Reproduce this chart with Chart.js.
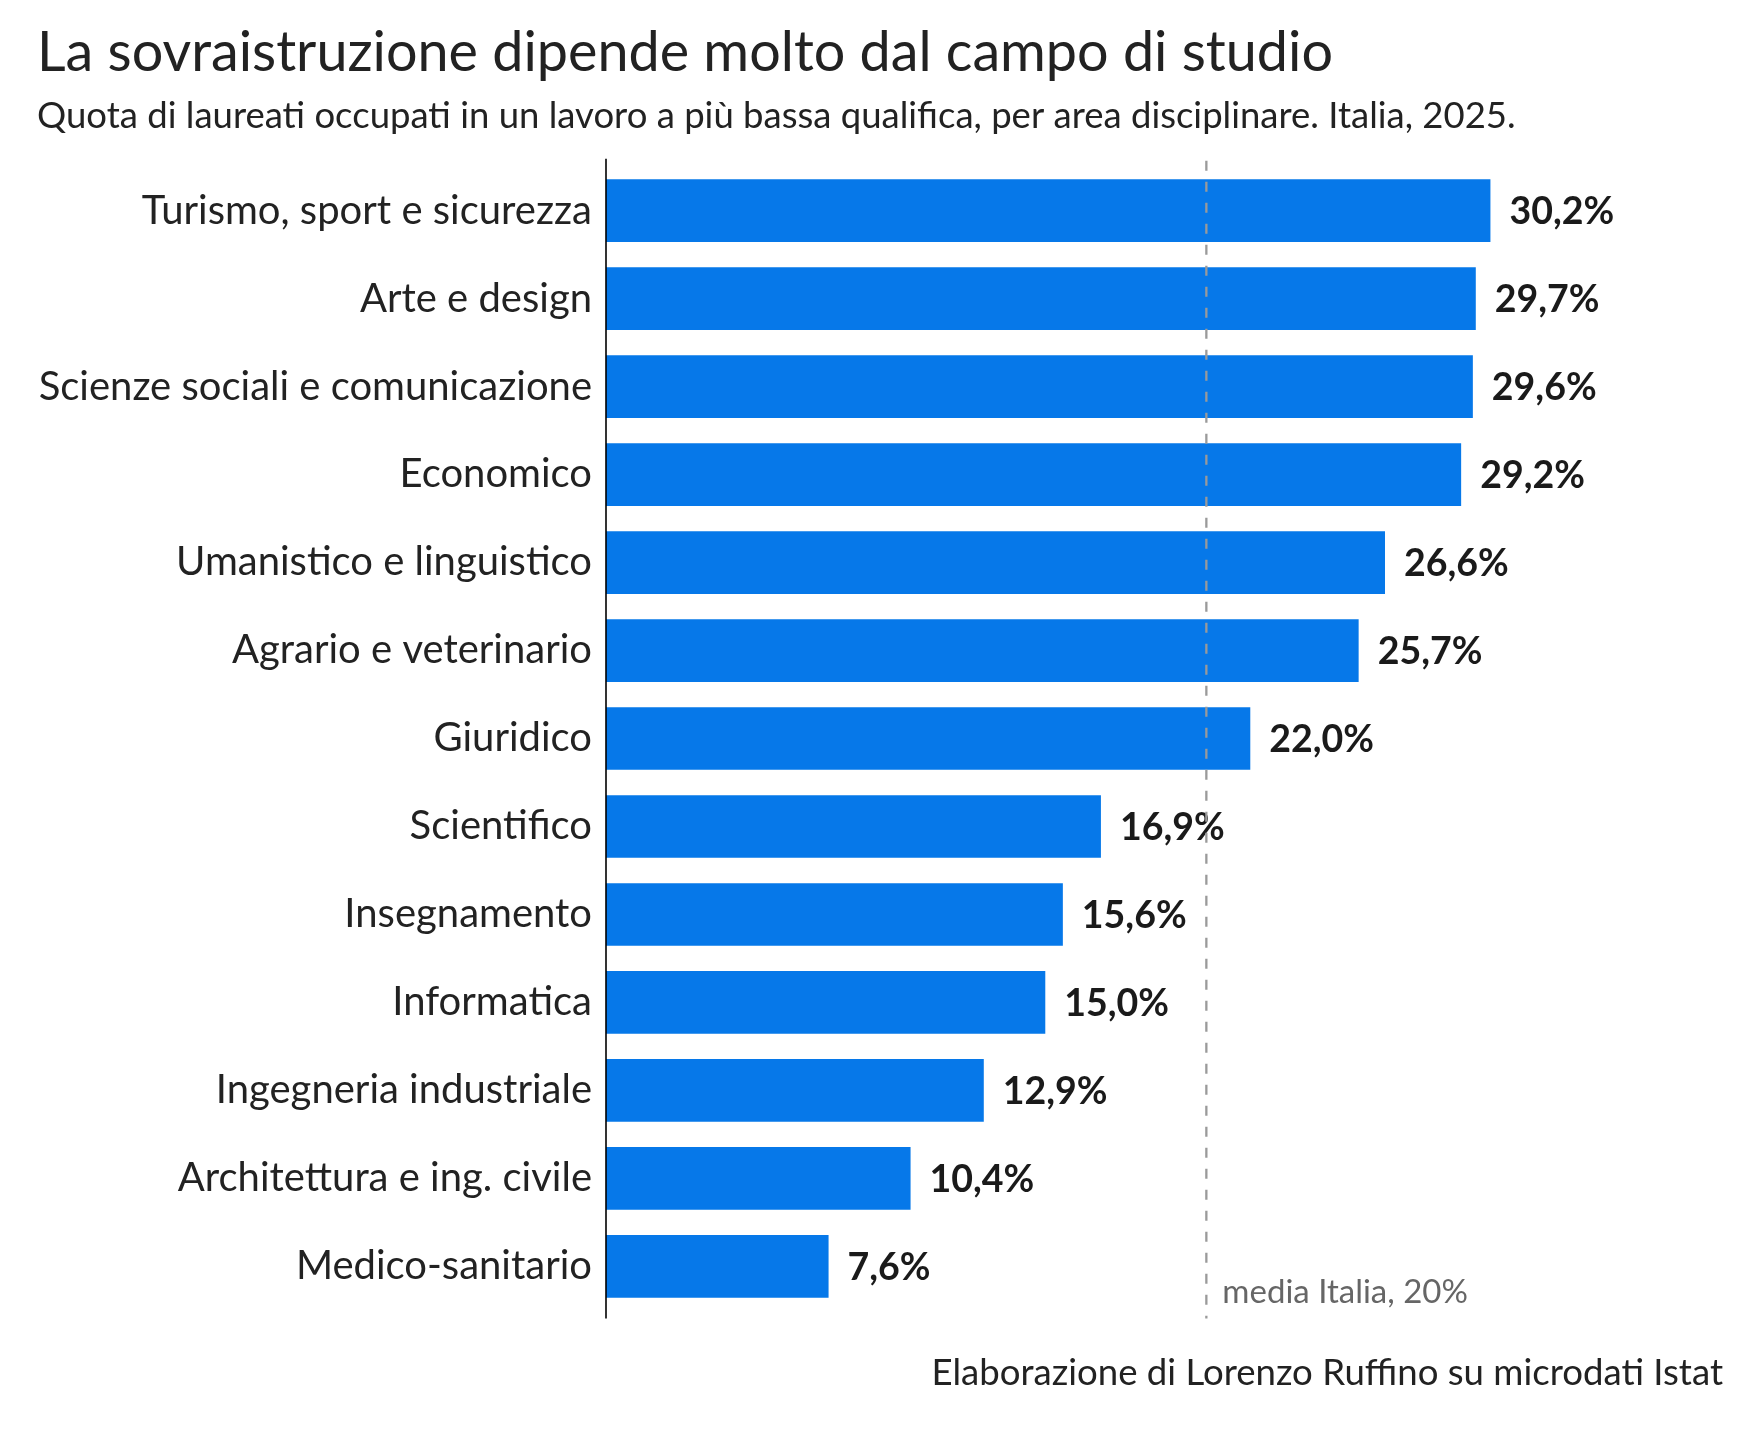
<!DOCTYPE html>
<html>
<head>
<meta charset="utf-8">
<script src="https://cdn.jsdelivr.net/npm/chart.js@4.4.1/dist/chart.umd.min.js"></script>
<style>
  html, body { margin: 0; padding: 0; background: #ffffff; }
  #wrap { width: 1760px; height: 1430px; }
</style>
</head>
<body>
<div id="wrap"><canvas id="bars" width="1760" height="1430"></canvas></div>
<script>
let areas = [
  "Turismo, sport e sicurezza",
  "Arte e design",
  "Scienze sociali e comunicazione",
  "Economico",
  "Umanistico e linguistico",
  "Agrario e veterinario",
  "Giuridico",
  "Scientifico",
  "Insegnamento",
  "Informatica",
  "Ingegneria industriale",
  "Architettura e ing. civile",
  "Medico-sanitario",
];
let share = [30.2, 29.7, 29.6, 29.2, 26.6, 25.7, 22.0, 16.9, 15.6, 15.0, 12.9, 10.4, 7.6];
let media = 20.5;
let mediaLabel = "media Italia, 20%";
let source = "Elaborazione di Lorenzo Ruffino su microdati Istat";

const font = "Lato, 'Source Sans Pro', sans-serif";
const ink = "#222222";

// value labels, axis line, average line, footer
let extras = {
  id: "extras",
  afterDatasetsDraw(chart) {
    let c = chart.ctx;
    let area = chart.chartArea;
    let x = chart.scales.x;
    let meta = chart.getDatasetMeta(0);

    c.save();
    c.font = "bold 37.5px " + font;
    c.fillStyle = "#1a1a1a";
    c.textAlign = "left";
    c.textBaseline = "middle";
    meta.data.forEach((bar, i) => {
      let txt = share[i].toFixed(1).replace(".", ",") + "%";
      c.fillText(txt, bar.x + 19, bar.y + 1);
    });

    // left axis line
    c.strokeStyle = "#000000";
    c.lineWidth = 1.6;
    c.beginPath();
    c.moveTo(area.left, area.top - 8);
    c.lineTo(area.left, area.bottom + 8);
    c.stroke();

    // average line
    let mx = x.getPixelForValue(media);
    c.strokeStyle = "#9a9a9a";
    c.lineWidth = 2.3;
    c.setLineDash([10, 11]);
    c.beginPath();
    c.moveTo(mx, area.top - 6);
    c.lineTo(mx, area.bottom + 8);
    c.stroke();
    c.setLineDash([]);

    c.font = "33px " + font;
    c.fillStyle = "#666666";
    c.textBaseline = "alphabetic";
    c.fillText(mediaLabel, mx + 16, area.bottom - 7);

    c.font = "36.6px " + font;
    c.fillStyle = ink;
    c.textAlign = "right";
    c.fillText(source, chart.width - 37, area.bottom + 75);
    c.restore();
  },
};

let ctx = document.getElementById("bars").getContext("2d");
let chart = new Chart(ctx, {
  type: "bar",
  data: {
    labels: areas,
    datasets: [
      {
        data: share,
        backgroundColor: "#0678E9",
        borderWidth: 0,
        categoryPercentage: 1,
        barPercentage: 0.7125,
      },
    ],
  },
  options: {
    indexAxis: "y",
    responsive: false,
    animation: false,
    devicePixelRatio: 1,
    layout: {
      padding: { left: 37, right: 129, top: 0, bottom: 119.6 },
    },
    scales: {
      x: {
        display: false,
        min: 0,
        max: 35,
      },
      y: {
        grid: { display: false, drawTicks: false },
        border: { display: false },
        ticks: {
          padding: 14,
          color: ink,
          font: { family: font, size: 40 },
        },
        afterFit(scale) {
          scale.width = 606 - 37;
        },
      },
    },
    plugins: {
      legend: { display: false },
      tooltip: { enabled: false },
      title: {
        display: true,
        text: "La sovraistruzione dipende molto dal campo di studio",
        align: "start",
        color: ink,
        font: { family: font, size: 55.7, weight: "normal" },
        padding: { top: 20, bottom: 0 },
      },
      subtitle: {
        display: true,
        text: "Quota di laureati occupati in un lavoro a più bassa qualifica, per area disciplinare. Italia, 2025.",
        align: "start",
        color: ink,
        font: { family: font, size: 36.5 },
        padding: { top: 7, bottom: 29 },
      },
    },
  },
  plugins: [extras],
});
</script>
</body>
</html>
